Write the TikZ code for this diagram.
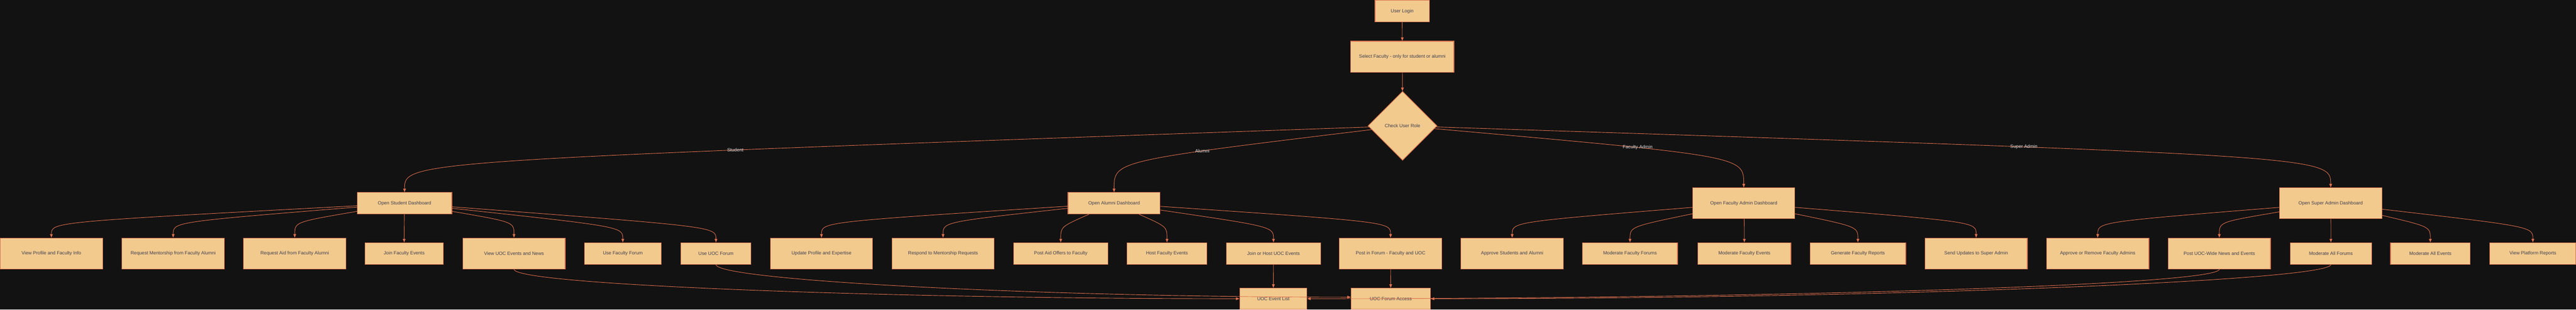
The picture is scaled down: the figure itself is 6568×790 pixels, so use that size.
\documentclass[tikz,border=0pt]{standalone}
\usepackage{fontspec}
\setmainfont{Liberation Sans}
\usepackage{tikz}
\usetikzlibrary{arrows.meta, positioning, calc, shapes.geometric}
\definecolor{bgdark}{HTML}{121212}
\definecolor{boxfill}{HTML}{F2CA8E}
\definecolor{boxline}{HTML}{D9704F}
\definecolor{boxtext}{HTML}{3F3F50}
\definecolor{linkcol}{HTML}{E0704F}
\definecolor{labeltext}{HTML}{DDDDDD}
\tikzset{
    box/.style={draw=boxline, fill=boxfill, line width=1.5pt, text=boxtext, font=\fontsize{12}{14}\selectfont, inner sep=0pt},
    short/.style={box, minimum height=55pt},
    tall/.style={box, minimum height=79pt},
    decision/.style={box, diamond, aspect=1, minimum width=176pt, minimum height=176pt},
    link/.style={->, >={Triangle[length=9pt, width=7pt]}, draw=linkcol, line width=1.2pt},
    rolelabel/.style={text=labeltext, font=\fontsize{12}{14}\selectfont, inner sep=1pt}
}

\begin{document}
\begin{tikzpicture}[x=1pt, y=1pt]
    % Background
    \fill[bgdark] (0,0) rectangle (6568,-790);
    \useasboundingbox (0,0) rectangle (6568,-790);
    % Login and role check
    \node[short, minimum width=138pt] (login) at (3575,-28.5) {User Login};
    \node[tall, minimum width=263pt] (select) at (3575.5,-144.5) {Select Faculty - only for student or alumni};
    \node[decision] (checkrole) at (3576,-321) {Check User Role};
    % Dashboards
    \node[short, minimum width=241pt] (sdash) at (1031.5,-518.5) {Open Student Dashboard};
    \node[short, minimum width=235pt] (adash) at (2840.5,-518.5) {Open Alumni Dashboard};
    \node[tall, minimum width=260pt] (fdash) at (4446,-518.5) {Open Faculty Admin Dashboard};
    \node[tall, minimum width=261pt] (sadash) at (5942.5,-518.5) {Open Super Admin Dashboard};
    % Student actions
    \node[tall, minimum width=262pt] (profile) at (131,-646.5) {View Profile and Faculty Info};
    \node[tall, minimum width=261pt] (mentorreq) at (441.5,-646.5) {Request Mentorship from Faculty Alumni};
    \node[tall, minimum width=261pt] (aidreq) at (751.5,-646.5) {Request Aid from Faculty Alumni};
    \node[short, minimum width=199pt] (facevents) at (1030.5,-646.5) {Join Faculty Events};
    \node[tall, minimum width=261pt] (uocnews) at (1310.5,-646.5) {View UOC Events and News};
    \node[short, minimum width=196pt] (facforum) at (1588,-646.5) {Use Faculty Forum};
    \node[short, minimum width=179pt] (uocforum) at (1825.5,-646.5) {Use UOC Forum};
    % Alumni actions
    \node[tall, minimum width=261pt] (updprofile) at (2094.5,-646.5) {Update Profile and Expertise};
    \node[tall, minimum width=261pt] (mentorresp) at (2404.5,-646.5) {Respond to Mentorship Requests};
    \node[short, minimum width=241pt] (aidoffer) at (2704.5,-646.5) {Post Aid Offers to Faculty};
    \node[short, minimum width=203pt] (hostevents) at (2975.5,-646.5) {Host Faculty Events};
    \node[short, minimum width=240pt] (uocevents) at (3247,-646.5) {Join or Host UOC Events};
    \node[tall, minimum width=261pt] (forumpost) at (3545.5,-646.5) {Post in Forum - Faculty and UOC};
    % Faculty admin actions
    \node[tall, minimum width=261pt] (approvesa) at (3855.5,-646.5) {Approve Students and Alumni};
    \node[short, minimum width=242pt] (modforums) at (4156,-646.5) {Moderate Faculty Forums};
    \node[short, minimum width=237pt] (modevents) at (4447.5,-646.5) {Moderate Faculty Events};
    \node[short, minimum width=244pt] (facreports) at (4737,-646.5) {Generate Faculty Reports};
    \node[tall, minimum width=261pt] (sendupd) at (5038.5,-646.5) {Send Updates to Super Admin};
    % Super admin actions
    \node[tall, minimum width=261pt] (approveadm) at (5348.5,-646.5) {Approve or Remove Faculty Admins};
    \node[tall, minimum width=261pt] (uocwide) at (5658.5,-646.5) {Post UOC-Wide News and Events};
    \node[short, minimum width=208pt] (modallforums) at (5943,-646.5) {Moderate All Forums};
    \node[short, minimum width=203pt] (modallevents) at (6196.5,-646.5) {Moderate All Events};
    \node[short, minimum width=220pt] (platreports) at (6458,-646.5) {View Platform Reports};
    % Shared UOC pages
    \node[short, minimum width=171pt, minimum height=54pt] (eventlist) at (3246.5,-762) {UOC Event List};
    \node[short, minimum width=202pt, minimum height=54pt] (forumaccess) at (3546,-762) {UOC Forum Access};
    % Links
    \draw[link] (login) -- (select);
    \draw[link] (select) -- (checkrole);
    \draw[link] (checkrole) .. controls ($(sdash.north)+(0,80)$) .. (sdash.north) node[rolelabel, pos=0.3] (lstudent) {Student};
    \draw[link] (checkrole) .. controls ($(adash.north)+(0,80)$) .. (adash.north) node[rolelabel, pos=0.3] (lalumni) {Alumni};
    \draw[link] (checkrole) .. controls ($(fdash.north)+(0,80)$) .. (fdash.north) node[rolelabel, pos=0.3] (lfadmin) {Faculty Admin};
    \draw[link] (checkrole) .. controls ($(sadash.north)+(0,80)$) .. (sadash.north) node[rolelabel, pos=0.3] (lsadmin) {Super Admin};
    \foreach \c in {profile,mentorreq,aidreq,facevents,uocnews,facforum,uocforum}
        \draw[link] (sdash) .. controls ($(\c.north)+(0,40)$) .. (\c.north);
    \foreach \c in {updprofile,mentorresp,aidoffer,hostevents,uocevents,forumpost}
        \draw[link] (adash) .. controls ($(\c.north)+(0,40)$) .. (\c.north);
    \foreach \c in {approvesa,modforums,modevents,facreports,sendupd}
        \draw[link] (fdash) .. controls ($(\c.north)+(0,40)$) .. (\c.north);
    \foreach \c in {approveadm,uocwide,modallforums,modallevents,platreports}
        \draw[link] (sadash) .. controls ($(\c.north)+(0,40)$) .. (\c.north);
    % Links to shared pages
    \draw[link] (uocevents) -- (eventlist);
    \draw[link] (forumpost) -- (forumaccess);
    \draw[link] (uocnews.south) .. controls +(0,-40) and +(-900,0) .. (eventlist.west);
    \draw[link] (uocforum.south) .. controls +(0,-40) and +(-800,0) .. ([yshift=4pt]forumaccess.west);
    \draw[link] (uocwide.south) .. controls +(0,-40) and +(1200,0) .. (eventlist.east);
    \draw[link] (modallforums.south) .. controls +(0,-40) and +(1200,0) .. (forumaccess.east);
\end{tikzpicture}
\end{document}
